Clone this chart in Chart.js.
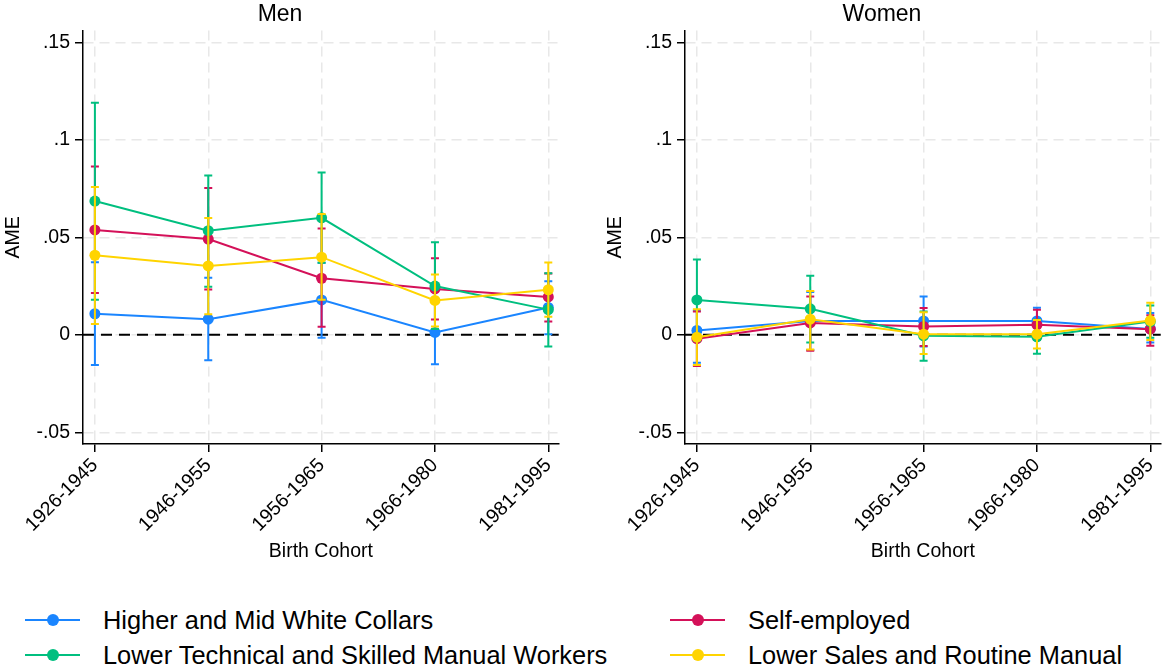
<!DOCTYPE html>
<html lang="en">
<head>
    <meta charset="UTF-8">
    <title>AME by Birth Cohort</title>
    <script src="https://cdn.jsdelivr.net/npm/chart.js"></script>
    <style>
        body { margin: 0; background: #fff; font-family: "Liberation Sans", Arial, sans-serif; }
        #wrap { position: relative; width: 1169px; height: 669px; overflow: hidden; }
        canvas { position: absolute; top: 0; }
        .item { position: absolute; font-size: 25.4px; color: #000; line-height: 28px; }
        .key { position: absolute; top: 13px; width: 55px; height: 2px; }
        .key span { position: absolute; left: 22px; top: -5px; width: 12px; height: 12px; border-radius: 50%; }
        .lab { position: absolute; white-space: nowrap; top: 0; }
    </style>
</head>
<body>
<div id="wrap">
    <canvas id="menChart" width="567" height="578" style="left:0"></canvas>
    <canvas id="womenChart" width="567" height="578" style="left:602px"></canvas>
    <div id="legend"></div>
</div>
<script>
    // categories and tick labels
    const cohorts = ['1926-1945', '1946-1955', '1956-1965', '1966-1980', '1981-1995'];
    const yTicks = [-0.05, 0, 0.05, 0.1, 0.15];
    const yTickLabels = ['-.05', '0', '.05', '.1', '.15'];
    const groups = ['Higher and Mid White Collars', 'Self-employed',
                    'Lower Technical and Skilled Manual Workers', 'Lower Sales and Routine Manual'];
    const colors = ['#1a85ff', '#d41159', '#00bf7f', '#ffd400'];

    // Men: point estimates and 95% CI bounds
    const menHigher = [0.0108, 0.0080, 0.0179, 0.0012, 0.0140];
    const menHigherLo = [-0.0155, -0.0130, -0.0015, -0.0151, 0.0003];
    const menHigherHi = [0.0372, 0.0292, 0.0370, 0.0175, 0.0275];
    const menSelf = [0.0538, 0.0491, 0.0290, 0.0235, 0.0194];
    const menSelfLo = [0.0215, 0.0232, 0.0041, 0.0078, 0.0068];
    const menSelfHi = [0.0863, 0.0753, 0.0545, 0.0393, 0.0314];
    const menTech = [0.0686, 0.0534, 0.0600, 0.0250, 0.0129];
    const menTechLo = [0.0180, 0.0246, 0.0370, 0.0030, -0.0060];
    const menTechHi = [0.1190, 0.0817, 0.0832, 0.0475, 0.0316];
    const menSales = [0.0408, 0.0353, 0.0398, 0.0176, 0.0231];
    const menSalesLo = [0.0055, 0.0106, 0.0180, 0.0043, 0.0092];
    const menSalesHi = [0.0758, 0.0599, 0.0620, 0.0309, 0.0371];

    // Women
    const womenHigher = [0.0022, 0.0071, 0.0071, 0.0071, 0.0030];
    const womenHigherLo = [-0.0143, -0.0078, -0.0060, 0.0003, -0.0040];
    const womenHigherHi = [0.0125, 0.0220, 0.0197, 0.0139, 0.0112];
    const womenSelf = [-0.0020, 0.0061, 0.0043, 0.0051, 0.0029];
    const womenSelfLo = [-0.0160, -0.0082, -0.0058, -0.0027, -0.0056];
    const womenSelfHi = [0.0120, 0.0197, 0.0138, 0.0129, 0.0100];
    const womenTech = [0.0179, 0.0133, -0.0005, -0.0010, 0.0068];
    const womenTechLo = [-0.0030, -0.0039, -0.0133, -0.0097, -0.0015];
    const womenTechHi = [0.0386, 0.0303, 0.0120, 0.0077, 0.0150];
    const womenSales = [-0.0012, 0.0080, 0.0003, 0.0003, 0.0073];
    const womenSalesLo = [-0.0155, -0.0075, -0.0099, -0.0070, -0.0027];
    const womenSalesHi = [0.0131, 0.0224, 0.0116, 0.0076, 0.0165];

    // draw the CI caps just under each series' line
    const errorBars = {
        id: 'errorBars',
        beforeDatasetDraw(chart, args) {
            const ds = chart.data.datasets[args.index];
            if (!ds.lo) return;
            const ctx = chart.ctx;
            const y = chart.scales.y;
            ctx.save();
            ctx.strokeStyle = ds.borderColor;
            ctx.lineWidth = 2;
            args.meta.data.forEach((pt, i) => {
                const yl = y.getPixelForValue(ds.lo[i]);
                const yh = y.getPixelForValue(ds.hi[i]);
                ctx.beginPath();
                ctx.moveTo(pt.x, yl); ctx.lineTo(pt.x, yh);
                ctx.moveTo(pt.x - 4, yl); ctx.lineTo(pt.x + 4, yl);
                ctx.moveTo(pt.x - 4, yh); ctx.lineTo(pt.x + 4, yh);
                ctx.stroke();
            });
            ctx.restore();
        }
    };

    // dashed reference line at zero
    const zeroLine = {
        id: 'zeroLine',
        beforeDatasetsDraw(chart) {
            const ctx = chart.ctx, a = chart.chartArea;
            const y0 = chart.scales.y.getPixelForValue(0);
            ctx.save();
            ctx.strokeStyle = '#000';
            ctx.lineWidth = 2;
            ctx.setLineDash([11, 7]);
            ctx.beginPath();
            ctx.moveTo(a.left, y0); ctx.lineTo(a.right, y0);
            ctx.stroke();
            ctx.restore();
        }
    };

    function series(vals) {
        return vals.map((v, i) => ({ x: i, y: v }));
    }

    function makeChart(id, title, sets) {
        const ctx = document.getElementById(id).getContext('2d');
        const datasets = sets.map((s, k) => ({
            label: groups[k],
            data: series(s[0]),
            lo: s[1],
            hi: s[2],
            borderColor: colors[k],
            backgroundColor: colors[k],
            borderWidth: 2,
            pointRadius: 5.5,
            pointBorderWidth: 0,
            tension: 0,
            order: 4 - k
        }));
        return new Chart(ctx, {
            type: 'line',
            data: { datasets: datasets },
            plugins: [zeroLine, errorBars],
            options: {
                responsive: false,
                animation: false,
                layout: { padding: { left: 0, right: 7, top: 0, bottom: 0 } },
                plugins: {
                    legend: { display: false },
                    tooltip: { enabled: false },
                    title: {
                        display: true, text: title, color: '#000',
                        font: { family: 'Liberation Sans', size: 23, weight: 'normal' },
                        padding: { top: 1, bottom: 2 }
                    }
                },
                scales: {
                    x: {
                        type: 'linear',
                        min: -0.105,
                        max: 4.092,
                        afterBuildTicks: (scale) => { scale.ticks = cohorts.map((c, i) => ({ value: i })); },
                        afterFit: (scale) => { scale.height = 134; },
                        ticks: {
                            autoSkip: false, minRotation: 45, maxRotation: 45, padding: 2,
                            color: '#000',
                            font: { family: 'Liberation Sans', size: 19.5 },
                            callback: (v) => cohorts[v]
                        },
                        grid: { color: '#e8e8e8', lineWidth: 1.5, tickColor: '#000', tickLength: 8, tickWidth: 1.5 },
                        border: { color: '#000', width: 1.5, dash: [10, 6] },
                        title: {
                            display: true, text: 'Birth Cohort', color: '#000',
                            font: { family: 'Liberation Sans', size: 19.5 },
                            padding: { top: 0, bottom: 15 }
                        }
                    },
                    y: {
                        min: -0.056,
                        max: 0.156,
                        afterBuildTicks: (scale) => { scale.ticks = yTicks.map(v => ({ value: v })); },
                        afterFit: (scale) => { scale.width = 83; },
                        ticks: {
                            padding: 5, color: '#000',
                            font: { family: 'Liberation Sans', size: 19.5 },
                            callback: (v) => yTickLabels[yTicks.indexOf(v)]
                        },
                        grid: { color: '#e8e8e8', lineWidth: 1.5, tickColor: '#000', tickLength: 8, tickWidth: 1.5 },
                        border: { color: '#000', width: 1.5, dash: [10, 6] },
                        title: {
                            display: true, text: 'AME', color: '#000',
                            font: { family: 'Liberation Sans', size: 19.5 },
                            padding: { top: 2, bottom: 0 }
                        }
                    }
                }
            }
        });
    }

    makeChart('menChart', 'Men', [
        [menHigher, menHigherLo, menHigherHi],
        [menSelf, menSelfLo, menSelfHi],
        [menTech, menTechLo, menTechHi],
        [menSales, menSalesLo, menSalesHi]
    ]);
    makeChart('womenChart', 'Women', [
        [womenHigher, womenHigherLo, womenHigherHi],
        [womenSelf, womenSelfLo, womenSelfHi],
        [womenTech, womenTechLo, womenTechHi],
        [womenSales, womenSalesLo, womenSalesHi]
    ]);

    // legend, two columns like the original
    const legendPos = [[25, 606], [670, 606], [25, 641], [670, 641]];
    const legend = document.getElementById('legend');
    groups.forEach((g, k) => {
        const div = document.createElement('div');
        div.className = 'item';
        div.style.left = legendPos[k][0] + 'px';
        div.style.top = legendPos[k][1] + 'px';
        div.innerHTML = '<div class="key" style="background:' + colors[k] + '"><span style="background:' +
            colors[k] + '"></span></div><div class="lab" style="left:78px">' + g + '</div>';
        legend.appendChild(div);
    });
</script>
</body>
</html>
